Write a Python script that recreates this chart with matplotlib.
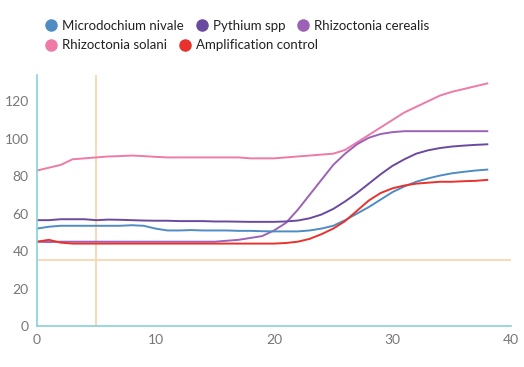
import matplotlib.pyplot as plt
from matplotlib.lines import Line2D

plt.rcParams['font.family'] = ['Lato', 'DejaVu Sans']

cycles = list(range(0, 39))

microdochium = [52, 53, 53.5, 53.5, 53.5, 53.5, 53.5, 53.5, 53.8, 53.5,
                52, 51, 51, 51.2, 51, 51, 51, 50.8, 50.8, 50.6,
                50.5, 50.5, 50.5, 51, 52, 53.5, 56.5, 60, 63.5, 67.5,
                71.5, 74.5, 77, 78.8, 80.3, 81.5, 82.3, 83, 83.5]
pythium = [56.5, 56.5, 57, 57, 57, 56.5, 56.8, 56.7, 56.5, 56.3,
           56.2, 56.2, 56, 56, 56, 55.8, 55.8, 55.7, 55.6, 55.6,
           55.6, 55.8, 56.3, 57.5, 59.5, 62.5, 66.5, 71, 76, 81,
           85.5, 89, 92, 93.8, 95, 95.8, 96.3, 96.7, 97]
cerealis = [45, 44.8, 45, 45, 45, 45, 45, 45, 45, 45,
            45, 45, 45, 45, 45, 45, 45.5, 46, 47, 48,
            51, 55, 62, 70, 78, 86, 92, 97, 100.5, 102.5,
            103.5, 104, 104, 104, 104, 104, 104, 104, 104]
solani = [83, 84.5, 86, 89, 89.5, 90, 90.5, 90.7, 91, 90.7,
          90.3, 90, 90, 90, 90, 90, 90, 90, 89.5, 89.5,
          89.5, 90, 90.5, 91, 91.5, 92, 94, 98, 102, 106,
          110, 114, 117, 120, 123, 125, 126.5, 128, 129.5]
control = [45, 46, 44.5, 44, 44, 44, 44, 44, 44, 44,
           44, 44, 44, 44, 44, 44, 44, 44, 44, 44,
           44, 44.3, 45, 46.5, 49, 52, 56, 61.5, 67, 71,
           73.5, 75, 76, 76.5, 77, 77, 77.3, 77.5, 78]

names = ["Microdochium nivale", "Pythium spp", "Rhizoctonia cerealis",
         "Rhizoctonia solani", "Amplification control"]
series = [microdochium, pythium, cerealis, solani, control]
colors = ['#4f8cc4', '#6a4a9e', '#9b62b8', '#ee7aa8', '#e8322e']

threshold = 35
baseline_cycle = 5

fig = plt.figure(figsize=(5.24, 3.67), dpi=100)
ax = fig.add_axes([37 / 524, 41 / 367, 474 / 524, 251 / 367])

# threshold lines
ax.axhline(threshold, color='#f9d3a8', lw=1.2, zorder=1)
ax.axvline(baseline_cycle, color='#f9d3a8', lw=1.2, zorder=1)

# solani drawn first so the others sit on top
order = [3, 2, 1, 0, 4]
for i in order:
    ax.plot(cycles, series[i], color=colors[i], lw=1.4, zorder=2,
            solid_joinstyle='round')

ax.set_xlim(0, 40)
ax.set_ylim(0, 134)
ax.set_xticks([0, 10, 20, 30, 40])
ax.set_yticks([0, 20, 40, 60, 80, 100, 120])
ax.tick_params(length=0, labelsize=10, labelcolor='#777777', pad=6)

for s in ['top', 'right']:
    ax.spines[s].set_visible(False)
for s in ['left', 'bottom']:
    ax.spines[s].set_color('#86d2d8')
    ax.spines[s].set_linewidth(1.2)

def handle(c):
    return Line2D([], [], marker='o', ls='', color=c, markersize=8)

leg_kw = dict(frameon=False, fontsize=9.5, handletextpad=0.3,
              columnspacing=0.9, borderaxespad=0, handlelength=1.0,
              labelcolor='#222222')
leg1 = fig.legend([handle(c) for c in colors[:3]], names[:3], ncol=3,
                  loc='upper left', bbox_to_anchor=(0.075, 0.96), **leg_kw)
leg2 = fig.legend([handle(c) for c in colors[3:]], names[3:], ncol=2,
                  loc='upper left', bbox_to_anchor=(0.075, 0.907), **leg_kw)

fig.savefig('out.png', dpi=100)
